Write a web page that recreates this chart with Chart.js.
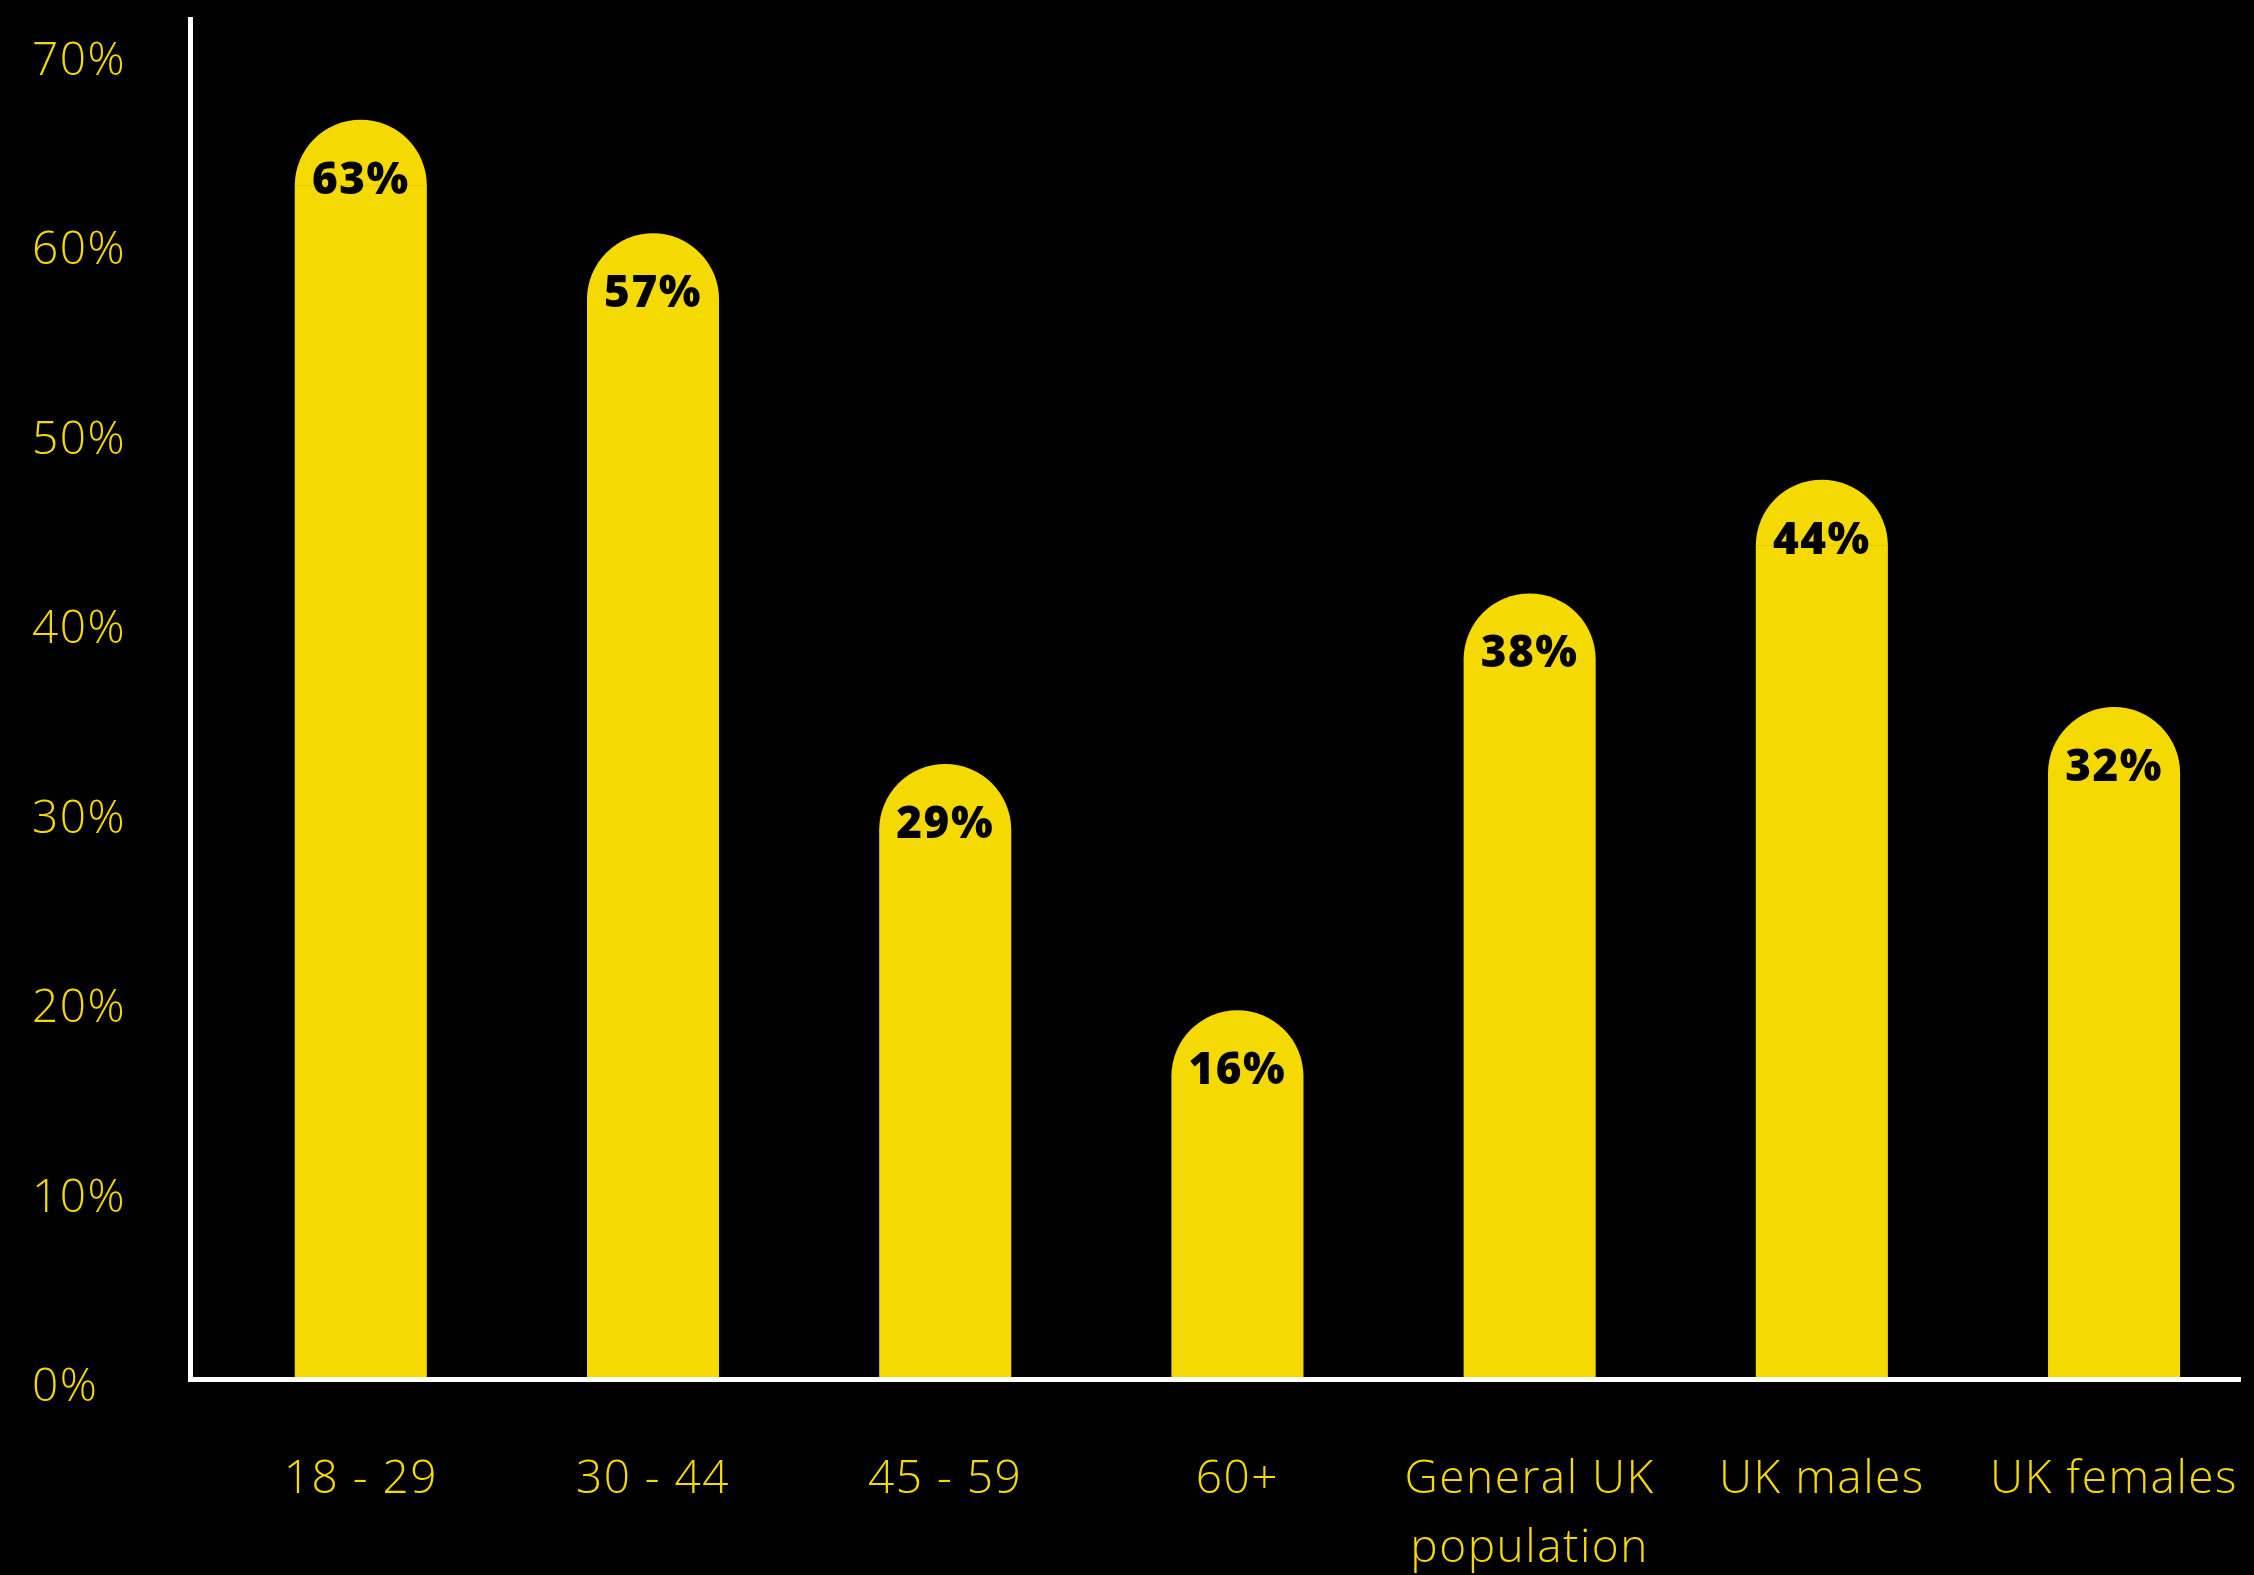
<!DOCTYPE html>
<html>
<head>
<meta charset="utf-8">
<script src="https://cdn.jsdelivr.net/npm/chart.js@4"></script>
<style>
    html, body { margin: 0; padding: 0; background: #000; }
    #wrap { width: 2254px; height: 1575px; }
</style>
</head>
<body>
<div id="wrap"><canvas id="chart-share"></canvas></div>
<script>
// Share of people by group (values read from the graphic)
const groups = ['18 - 29', '30 - 44', '45 - 59', '60+', ['General UK', 'population'], 'UK males', 'UK females'];
const shares = [63, 57, 29, 16, 38, 44, 32];
const yTicks = [0, 10, 20, 30, 40, 50, 60, 70];

const YELLOW = '#F5D902';
const FONT = '"Open Sans", Lato, sans-serif';

// a bit of tracking so the text runs as wide as the original face
const spacingPlugin = {
    id: 'spacing',
    beforeDraw(chart) { chart.ctx.letterSpacing = '1.5px'; },
    afterDraw(chart) { chart.ctx.letterSpacing = '0px'; }
};

// y labels sit a little below their tick in the original, so draw them here
const yLabelPlugin = {
    id: 'yLabels',
    afterDraw(chart) {
        const ctx = chart.ctx;
        const y = chart.scales.y;
        ctx.save();
        ctx.letterSpacing = '1.5px';
        ctx.fillStyle = YELLOW;
        ctx.font = '300 46px ' + FONT;
        ctx.textAlign = 'left';
        ctx.textBaseline = 'middle';
        yTicks.forEach(v => {
            ctx.fillText(v + '%', y.left, y.getPixelForValue(v) + 9);
        });
        ctx.restore();
    }
};

// rounded cap on top of each bar + the value written inside it
const capPlugin = {
    id: 'caps',
    afterDatasetsDraw(chart) {
        const ctx = chart.ctx;
        const meta = chart.getDatasetMeta(0);
        ctx.save();
        meta.data.forEach((bar, i) => {
            const r = bar.width / 2;
            ctx.fillStyle = YELLOW;
            ctx.beginPath();
            ctx.arc(bar.x, bar.y + 0.5, r, Math.PI, 2 * Math.PI);
            ctx.fill();
            ctx.fillStyle = '#000';
            ctx.font = '800 44px ' + FONT;
            ctx.textAlign = 'center';
            ctx.textBaseline = 'middle';
            ctx.fillText(shares[i] + '%', bar.x, bar.y - 4);
        });
        ctx.restore();
    }
};

const ctx = document.getElementById('chart-share').getContext('2d');
new Chart(ctx, {
    type: 'bar',
    data: {
        datasets: [{
            data: shares.map((v, i) => ({ x: i, y: v })),
            backgroundColor: YELLOW,
            borderWidth: 0,
            barPercentage: 0.452,
            categoryPercentage: 1
        }]
    },
    options: {
        responsive: true,
        maintainAspectRatio: false,
        animation: false,
        layout: { padding: { left: 32, top: 19, right: 14, bottom: 0 } },
        plugins: {
            legend: { display: false },
            tooltip: { enabled: false }
        },
        scales: {
            x: {
                type: 'linear',
                offset: false,
                min: -0.5845,
                max: 6.431,
                afterBuildTicks: s => { s.ticks = groups.map((_, i) => ({ value: i })); },
                afterFit: s => {
                    s.height = 196;
                    s.paddingLeft = 0;
                    s.paddingRight = 0;
                },
                grid: { display: false, drawTicks: false },
                border: { color: '#fff', width: 5, z: 1 },
                ticks: {
                    color: YELLOW,
                    padding: 66,
                    maxRotation: 0,
                    autoSkip: false,
                    font: { family: FONT, size: 46, weight: '300', lineHeight: 1.5 },
                    callback: v => groups[v]
                }
            },
            y: {
                min: 0,
                max: 71.77,
                afterBuildTicks: s => { s.ticks = yTicks.map(v => ({ value: v })); },
                afterFit: s => {
                    s.width = 158;
                    s.paddingTop = 0;
                    s.paddingBottom = 0;
                },
                grid: { display: false, drawTicks: false },
                border: { color: '#fff', width: 5, z: 1 },
                ticks: { display: false }
            }
        }
    },
    plugins: [spacingPlugin, capPlugin, yLabelPlugin]
});
</script>
</body>
</html>
